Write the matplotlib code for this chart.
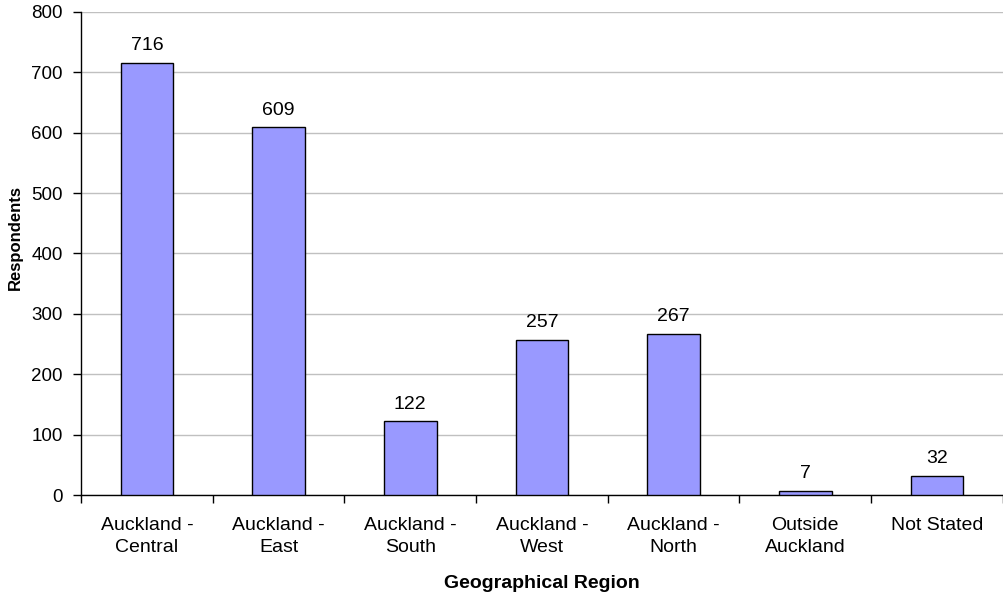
import numpy as np
import matplotlib
matplotlib.use('Agg')
import matplotlib.pyplot as plt

regions = ['Auckland -\nCentral', 'Auckland -\nEast', 'Auckland -\nSouth',
           'Auckland -\nWest', 'Auckland -\nNorth', 'Outside\nAuckland', 'Not Stated']
respondents = [716, 609, 122, 257, 267, 7, 32]
yticks = [0, 100, 200, 300, 400, 500, 600, 700, 800]

plt.rcParams['font.family'] = ['Liberation Sans', 'DejaVu Sans']

fig = plt.figure(figsize=(10.04, 5.95), dpi=100)
ax = fig.add_axes([0.0807, 0.168, 0.918, 0.812])

x = np.arange(len(regions))
ax.bar(x, respondents, width=0.4, color='#9999FF', edgecolor='black',
       linewidth=1.0, zorder=3)
# value labels above each bar
for xi, v in zip(x, respondents):
    ax.annotate(str(v), (xi, v), xytext=(0, 9), textcoords='offset points',
                ha='center', va='baseline', fontsize=14)

ax.set_xlim(-0.5, len(regions) - 0.5)
ax.set_ylim(0, 800)
ax.set_yticks(yticks)
ax.set_xticks(x)
ax.set_xticklabels(regions, fontsize=14, linespacing=1.4)
ax.tick_params(axis='x', length=0, pad=16)
# category separators as outward minor ticks
ax.set_xticks(np.arange(len(regions) + 1) - 0.5, minor=True)
ax.tick_params(axis='x', which='minor', length=6, width=1, direction='out')
ax.tick_params(axis='y', labelsize=13.5, length=6, width=1, direction='out', pad=7)

ax.yaxis.grid(True, color='#c0c0c0', linewidth=1, zorder=0)
ax.spines['top'].set_visible(False)
ax.spines['right'].set_visible(False)
ax.spines['left'].set_linewidth(1)
ax.spines['bottom'].set_linewidth(1)

ax.set_ylabel('Respondents', fontsize=12, fontweight='bold')
ax.yaxis.set_label_coords(-0.0632, 0.533)
ax.set_xlabel('Geographical Region', fontsize=14, fontweight='bold')
ax.xaxis.set_label_coords(0.5, -0.1656)

fig.savefig('out.png', dpi=100)
